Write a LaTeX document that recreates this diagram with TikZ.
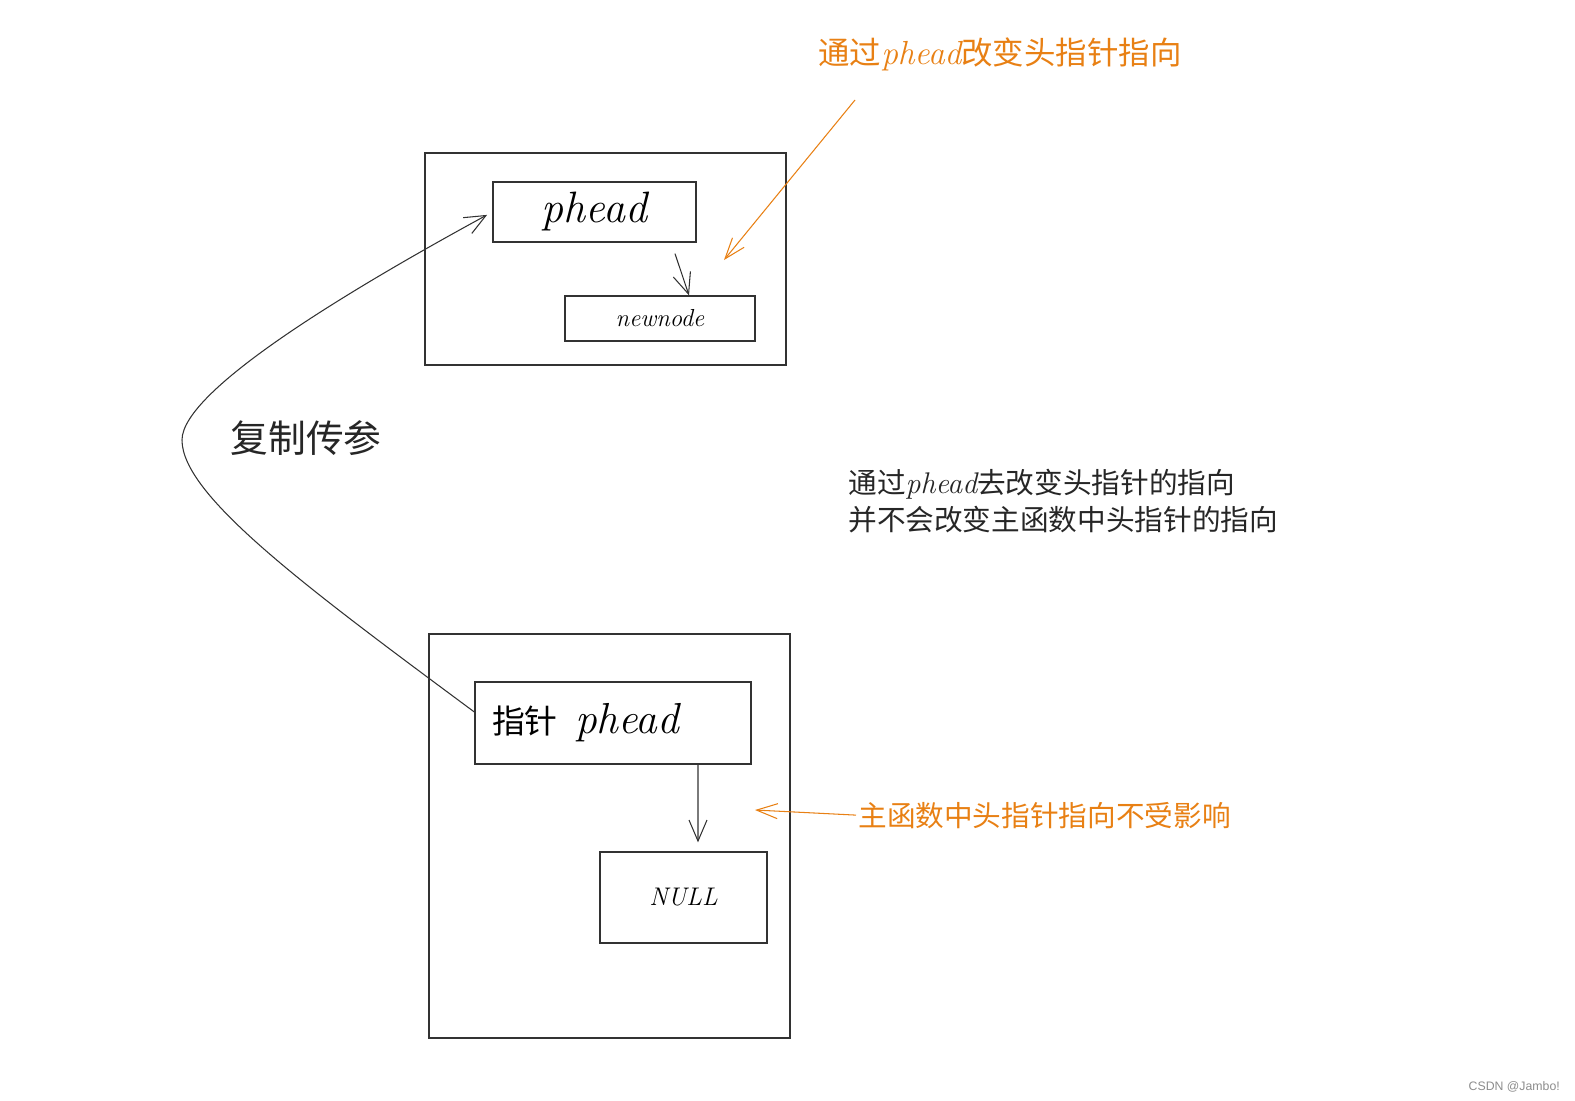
\documentclass[tikz,border=0pt]{standalone}
\usepackage{fontspec}
\newfontfamily\cjk{Noto Sans CJK SC}
\newfontfamily\marksf{Liberation Sans}
\newcommand\hand{\rmfamily\itshape}
\usetikzlibrary{arrows.meta}
\definecolor{excaorange}{RGB}{232,128,20}
\definecolor{inkgray}{RGB}{50,50,50}

\begin{document}
\begin{tikzpicture}[x=0.02cm, y=-0.02cm,
    frame/.style={draw=inkgray, line width=0.9pt, inner sep=0pt},
    cell/.style={draw=inkgray, line width=0.75pt, inner sep=0pt},
    link/.style={draw=inkgray, line width=0.6pt, -{Straight Barb[length=0.42cm, width=0.36cm]}},
    hint/.style={draw=excaorange, line width=0.6pt, -{Straight Barb[length=0.42cm, width=0.3cm]}}]

    % Fixing the page to the size of the reference
    \useasboundingbox (0,0) rectangle (1575,1100);

    % Inside the function: the copied pointer
    \node[frame, minimum width=7.22cm, minimum height=4.24cm] (frameA) at (605.5,259) {};
    \node[cell, minimum width=4.06cm, minimum height=1.2cm, font=\hand\fontsize{25}{25}\selectfont] (pheadA) at (594.5,212) {phead};
    \node[cell, minimum width=3.8cm, minimum height=0.9cm, font=\hand\fontsize{14}{14}\selectfont] (newnode) at (660,318.5) {newnode};
    \draw[link] ([xshift=1.61cm, yshift=-0.22cm]pheadA.south) -- ([xshift=0.58cm]newnode.north);

    % Main function: the original pointer
    \node[frame, minimum width=7.22cm, minimum height=8.08cm] (frameB) at (609.5,836) {};
    \node[cell, minimum width=5.52cm, minimum height=1.64cm, text width=4.84cm, inner xsep=0.34cm, align=left,
          font=\cjk\fontsize{18.7}{20}\selectfont] (pheadB) at (613,723) {指针\hspace{0.35cm}{\hand\fontsize{24.7}{25}\selectfont phead}};
    \node[cell, minimum width=3.34cm, minimum height=1.82cm, font=\hand\fontsize{14.5}{15}\selectfont] (null) at (683.5,897.5) {NULL};
    \draw[link] ([xshift=1.7cm]pheadB.south) -- ([xshift=0.29cm, yshift=0.18cm]null.north);

    % Passing by copy
    \draw[link, shorten >=0.12cm] ([yshift=0.22cm]pheadB.west) .. controls (303,585) and (182,495) .. (182,440)
        .. controls (182,390) and (351,289) .. (pheadA.west);
    \node[font=\cjk\fontsize{21.5}{22}\selectfont, text=black!85] (copyLbl) at (306,438) {复制传参};

    % Notes
    \node[anchor=base west, inner sep=0pt, text=excaorange, font=\cjk\fontsize{17.9}{18}\selectfont] (topNote) at (818,64)
        {通过{\hand\fontsize{19}{19}\selectfont phead}改变头指针指向};
    \coordinate (hintTail) at (855,100);
    \coordinate (hintTip) at (724,260);
    \draw[hint] (hintTail) -- (hintTip);

    \node[anchor=west, inner sep=0pt, align=left, text=black!85, font=\cjk\fontsize{16.3}{21.5}\selectfont] (sideNote) at (848,501)
        {通过{\hand\fontsize{17}{17}\selectfont phead}去改变头指针的指向\\并不会改变主函数中头指针的指向};

    \node[anchor=base west, inner sep=0pt, text=excaorange, font=\cjk\fontsize{16.3}{16}\selectfont] (bottomNote) at (858,826)
        {主函数中头指针指向不受影响};
    \coordinate (hintTip2) at (755,810);
    \draw[hint] ([xshift=-0.04cm]bottomNote.west) -- (hintTip2);

    \node[anchor=east, text=black!45, font=\marksf\fontsize{7}{7}\selectfont] (mark) at (1566,1087) {CSDN @Jambo!};
\end{tikzpicture}
\end{document}
